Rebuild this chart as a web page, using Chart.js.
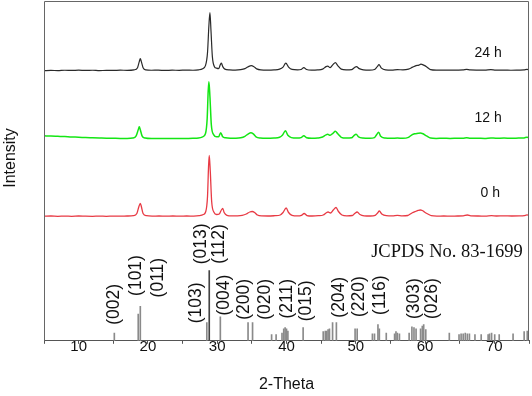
<!DOCTYPE html>
<html>
<head>
  <title>XRD patterns</title>
  <script src="https://cdn.jsdelivr.net/npm/chart.js"></script>
  <style>
    body { margin: 0; background: #fff; }
    #wrap { width: 532px; height: 396px; }
  </style>
</head>
<body>
  <div id="wrap"><canvas id="xrdChart" width="532" height="396"></canvas></div>
  <script>
    // measured patterns: [2-theta, intensity above own baseline]
    var trace24h = [[5,0],[6,0.3],[7,0],[8,0.4],[9,0.2],[10,0.5],[11,0.2],[12,0.4],[13,0],[14,0.3],[15,0.2],[16,0.5],[17,0.3],[18,0.8],[18.5,3],[18.75,9],[18.9,12],[19.05,9],[19.3,3],[19.7,0.8],[20.5,0.4],[21.5,0.5],[22.5,0.2],[23.5,0.5],[24.5,0.3],[25.5,0.6],[26.5,0.4],[27.3,0.8],[27.9,2],[28.3,5],[28.6,18],[28.8,45],[28.95,58],[29.1,40],[29.3,14],[29.6,4],[29.9,2.5],[30.2,2],[30.45,6],[30.6,7.5],[30.8,4],[31.1,1.5],[31.8,0.8],[32.6,0.6],[33.4,1],[34.0,2],[34.5,4],[34.9,5],[35.3,4],[35.7,1.8],[36.3,0.8],[37.2,0.6],[38.2,0.8],[39.0,1.5],[39.5,3.5],[39.9,7.5],[40.3,3.5],[40.8,1.2],[41.6,0.8],[42.1,1.2],[42.5,3],[42.9,1.2],[43.6,0.6],[44.5,0.8],[45.2,1.5],[45.7,4],[45.95,4.5],[46.3,3],[46.7,6],[47.05,8],[47.4,5],[47.9,1.5],[48.6,0.8],[49.4,1],[49.8,3],[50.1,4],[50.5,2],[51.1,0.8],[52,0.6],[52.7,1.2],[53.1,4],[53.35,6],[53.7,2.5],[54.3,0.8],[55.2,0.6],[56.0,1.0],[56.8,0.8],[57.6,1.5],[58.2,3.5],[58.7,5],[59.1,5.5],[59.4,6.5],[59.8,5.5],[60.3,3.5],[60.8,1],[61.6,0.5],[62.6,0.6],[63.6,0.5],[64.6,0.6],[65.5,0.8],[66.0,1.3],[66.5,0.7],[67.6,0.6],[68.6,0.5],[69.5,1],[70.2,0.5],[71.4,0.6],[72.4,0.4],[73.5,0.6],[74.3,0.8],[74.7,1.3],[75,0.8]];
    var trace12h = [[5,3],[6,2.8],[7,2.5],[8,2.2],[9,1.8],[10,1.6],[11,1.2],[12,1.0],[13,0.8],[14,0.6],[15,0.5],[16,0.4],[17,0.4],[17.8,0.8],[18.3,3],[18.6,9],[18.75,12],[18.9,9],[19.15,3],[19.6,0.8],[20.5,0.3],[21.5,0.4],[22.5,0.2],[23.5,0.4],[24.5,0.3],[25.5,0.4],[26.5,0.5],[27.3,0.8],[27.9,2],[28.3,5],[28.55,20],[28.7,48],[28.8,57],[28.95,42],[29.15,14],[29.5,4],[29.9,2],[30.2,2],[30.5,6],[30.8,2],[31.2,1],[31.9,0.6],[32.7,0.6],[33.4,1],[34.0,2.5],[34.5,5],[34.85,6],[35.2,5],[35.6,2],[36.2,0.8],[37.2,0.5],[38.2,0.8],[39.0,1.5],[39.4,3.5],[39.85,8],[40.2,3.5],[40.7,1.2],[41.5,0.7],[42.1,1.2],[42.5,3],[42.9,1],[43.6,0.5],[44.5,0.8],[45.2,1.8],[45.7,4],[45.95,4.5],[46.3,3.5],[46.7,5.5],[47.05,7.5],[47.4,5],[47.9,1.5],[48.6,0.7],[49.4,1],[49.7,3],[50.05,4.5],[50.4,2],[51.0,0.8],[52,0.5],[52.7,1.2],[53.0,4],[53.3,6.5],[53.6,2.5],[54.2,0.8],[55.2,0.5],[56.0,0.8],[56.8,0.5],[57.6,1.5],[58.1,4],[58.5,5],[59.0,5.5],[59.3,5.8],[59.7,5],[60.2,3],[60.8,0.8],[61.6,0.4],[62.6,0.5],[63.6,0.4],[64.6,0.5],[65.5,0.6],[66.0,1],[66.5,0.6],[67.6,0.5],[68.6,0.4],[69.5,0.8],[70.2,0.6],[71.4,0.7],[72.4,0.5],[73.5,0.7],[74.3,0.9],[74.7,1.6],[75,1.2]];
    var trace0h = [[5,0.3],[6,0.5],[7,0.2],[8,0.4],[9,0.2],[10,0.5],[11,0.3],[12,0.2],[13,0.4],[14,0.2],[15,0.4],[16,0.3],[17,0.5],[17.9,0.8],[18.4,3],[18.7,10],[18.9,13],[19.05,10],[19.3,3],[19.8,0.8],[20.6,0.4],[21.6,0.5],[22.6,0.3],[23.6,0.5],[24.6,0.3],[25.6,0.5],[26.6,0.4],[27.4,0.8],[28.0,2],[28.35,5],[28.6,20],[28.75,50],[28.85,61],[29.0,45],[29.2,15],[29.55,4],[29.9,2],[30.3,2.5],[30.6,6.5],[30.8,8],[31.0,4],[31.4,1.2],[32.1,0.6],[32.9,0.7],[33.6,1.2],[34.2,2.5],[34.7,4.5],[35.05,5],[35.4,4],[35.8,1.5],[36.4,0.6],[37.3,0.5],[38.3,0.8],[39.1,1.5],[39.5,4],[39.95,8.5],[40.3,4],[40.8,1.2],[41.6,0.6],[42.15,1.2],[42.55,3],[42.95,1],[43.7,0.5],[44.6,0.8],[45.3,1.5],[45.8,4],[46.0,4.5],[46.35,3.5],[46.75,6.5],[47.15,9],[47.5,5],[48.0,1.5],[48.7,0.6],[49.5,1],[49.85,3],[50.2,4.5],[50.6,2],[51.2,0.7],[52.1,0.5],[52.8,1.2],[53.15,3.5],[53.4,5.5],[53.75,2.5],[54.4,0.8],[55.3,0.6],[56.0,1.2],[56.7,0.6],[57.5,1],[58.1,3.5],[58.6,5],[59.0,6],[59.3,6.5],[59.6,6],[59.9,4.5],[60.4,2.5],[60.9,0.8],[61.7,0.4],[62.7,0.5],[63.7,0.4],[64.7,0.5],[65.5,0.6],[66.1,1.5],[66.6,0.6],[67.7,0.5],[68.7,0.4],[69.6,0.8],[70.3,0.5],[71.4,0.6],[72.5,0.5],[73.6,0.6],[74.3,0.9],[74.7,1.6],[75,1.4]];

    // vertical offsets used to stack the three patterns
    var offset24h = 269.5;
    var offset12h = 201.5;
    var offset0h = 124;

    var traceNames = ['24 h', '12 h', '0 h'];
    var traceNameX = [69.1, 69.1, 69.4];
    var traceNameY = [287, 222, 147];

    // JCPDS No. 83-1699 reference lines (2-theta, relative intensity)
    var refPos = [15.15, 18.6, 18.9, 28.5, 28.85, 30.45, 34.45, 35.1, 37.85, 38.5, 39.35, 39.6, 39.8, 40.0, 40.2, 42.4, 45.3, 45.6, 45.8, 46.0, 46.2, 46.65, 47.2, 49.9, 50.2, 52.4, 52.7, 53.2, 53.4, 54.4, 55.6, 55.8, 56.0, 56.3, 57.7, 58.1, 58.4, 58.7, 59.35, 59.6, 59.8, 60.1, 63.5, 64.9, 65.2, 65.5, 65.8, 66.1, 66.4, 67.2, 68.1, 69.1, 69.3, 69.6, 70.05, 70.7, 72.7, 74.3, 74.75];
    var refInt = [11, 38, 49, 26, 100, 34, 26, 26, 9, 9, 11, 17, 19, 17, 14, 19, 13, 14, 14, 16, 17, 26, 26, 17, 17, 10, 10, 23, 17, 11, 10, 13, 11, 10, 11, 20, 19, 17, 17, 21, 23, 16, 11, 9, 10, 10, 11, 10, 10, 9, 9, 9, 10, 11, 9, 9, 10, 13, 14];

    var hklLabels = ['(002)', '(101)', '(011)', '(103)', '(013)', '(112)', '(004)', '(200)', '(020)', '(211)', '(015)', '(204)', '(220)', '(116)', '(303)', '(026)'];
    var hklX = [15.15, 18.26, 21.45, 27.0, 27.67, 30.28, 31.0, 33.86, 36.9, 40.1, 42.9, 47.6, 50.5, 53.5, 58.4, 61.0];
    var hklY = [52, 93, 90, 54, 138, 138, 65, 59, 59, 60, 57, 62, 63, 65, 60, 60];

    var refCard = 'JCPDS No. 83-1699';
    var refCardX = 74.1;
    var refCardY = 126;

    function toPoints(trace, offset) {
      return trace.map(p => ({ x: p[0], y: p[1] + offset }));
    }

    var textPlugin = {
      id: 'textPlugin',
      afterDatasetsDraw(chart) {
        var ctx = chart.ctx;
        var a = chart.chartArea;
        var xs = chart.scales.x, ys = chart.scales.y, yr = chart.scales.yRef;
        ctx.save();
        // frame
        ctx.strokeStyle = '#666';
        ctx.lineWidth = 1;
        ctx.beginPath();
        ctx.moveTo(a.left + 0.5, a.bottom);
        ctx.lineTo(a.left + 0.5, a.top + 0.5);
        ctx.lineTo(a.right - 0.5, a.top + 0.5);
        ctx.lineTo(a.right - 0.5, a.bottom);
        ctx.stroke();

        ctx.fillStyle = '#111';
        ctx.font = '14px "Liberation Sans", Arial, sans-serif';
        ctx.textAlign = 'center';
        ctx.textBaseline = 'middle';
        traceNames.forEach((t, i) => {
          ctx.fillText(t, xs.getPixelForValue(traceNameX[i]), ys.getPixelForValue(traceNameY[i]));
        });

        ctx.font = '18.5px "Liberation Serif", "Times New Roman", serif';
        ctx.textAlign = 'right';
        ctx.fillText(refCard, xs.getPixelForValue(refCardX), yr.getPixelForValue(refCardY));

        ctx.font = '17.5px "Liberation Sans", Arial, sans-serif';
        ctx.textAlign = 'center';
        hklLabels.forEach((t, i) => {
          ctx.save();
          ctx.translate(xs.getPixelForValue(hklX[i]), yr.getPixelForValue(hklY[i]));
          ctx.rotate(-Math.PI / 2);
          ctx.fillText(t, 0, 0);
          ctx.restore();
        });

        // y axis title
        ctx.save();
        ctx.translate(11, 158);
        ctx.rotate(-Math.PI / 2);
        ctx.font = '16px "Liberation Sans", Arial, sans-serif';
        ctx.fillText('Intensity', 0, 0);
        ctx.restore();
        ctx.restore();
      }
    };

    new Chart(document.getElementById('xrdChart'), {
      data: {
        datasets: [
          { type: 'line', label: '24 h', data: toPoints(trace24h, offset24h), borderColor: '#2a2a2a', borderWidth: 1.2, pointRadius: 0, cubicInterpolationMode: 'monotone' },
          { type: 'line', label: '12 h', data: toPoints(trace12h, offset12h), borderColor: '#14e614', borderWidth: 1.5, pointRadius: 0, cubicInterpolationMode: 'monotone' },
          { type: 'line', label: '0 h', data: toPoints(trace0h, offset0h), borderColor: '#e83a44', borderWidth: 1.3, pointRadius: 0, cubicInterpolationMode: 'monotone' },
          {
            type: 'bar', label: 'JCPDS', yAxisID: 'yRef',
            data: refPos.map((p, i) => ({ x: p, y: refInt[i] })),
            backgroundColor: refInt.map(v => v > 90 ? '#444' : '#8a8a8a'),
            barThickness: 1
          }
        ]
      },
      options: {
        responsive: false,
        animation: false,
        layout: { padding: { left: 44, right: 3, top: 1, bottom: 2 } },
        plugins: { legend: { display: false }, tooltip: { enabled: false } },
        scales: {
          x: {
            type: 'linear', min: 5, max: 75, offset: false,
            ticks: {
              stepSize: 5, autoSkip: false, padding: -6,
              color: '#111',
              font: { family: '"Liberation Sans", Arial, sans-serif', size: 15 },
              callback: v => (v % 10 === 0 ? v : '')
            },
            grid: { drawOnChartArea: false, tickLength: 3, color: '#555', offset: false },
            border: { color: '#555' },
            title: { display: true, text: '2-Theta', color: '#111', padding: { top: 25, bottom: 0 },
              font: { family: '"Liberation Sans", Arial, sans-serif', size: 16 } }
          },
          y: { type: 'linear', min: 0, max: 339, display: false },
          yRef: { type: 'linear', min: 0, max: 484, display: false }
        }
      },
      plugins: [textPlugin]
    });
  </script>
</body>
</html>
